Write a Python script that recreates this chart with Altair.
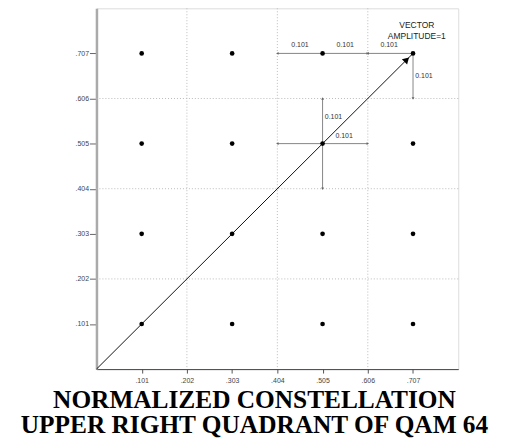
import altair as alt
import pandas as pd

# constellation points (upper right quadrant of QAM 64)
pt_x = [0.101, 0.303, 0.505, 0.707] * 4
pt_y = [0.101] * 4 + [0.303] * 4 + [0.505] * 4 + [0.707] * 4

tick_vals = [0.101, 0.202, 0.303, 0.404, 0.505, 0.606, 0.707]
grid_vals = [0.202, 0.404, 0.606]

# vector from origin to (0.707, 0.707)
vec_x = [0.0, 0.707]
vec_y = [0.0, 0.707]

# dimension segments
dim_x1 = [0.404, 0.505, 0.606, 0.707, 0.505, 0.505, 0.404, 0.505]
dim_x2 = [0.505, 0.606, 0.707, 0.707, 0.505, 0.505, 0.505, 0.606]
dim_y1 = [0.707, 0.707, 0.707, 0.707, 0.505, 0.404, 0.505, 0.505]
dim_y2 = [0.707, 0.707, 0.707, 0.606, 0.606, 0.505, 0.505, 0.505]

# dimension labels
lab_x = [0.4545, 0.5555, 0.6535, 0.712, 0.510, 0.553]
lab_y = [0.725, 0.725, 0.725, 0.657, 0.565, 0.521]
lab_t = ["0.101"] * 6
lab_align = ["center", "center", "center", "left", "left", "center"]

ann_text = ["VECTOR", "AMPLITUDE=1"]
ann_x = [0.7155, 0.7155]
ann_y = [0.7704, 0.7464]

DOM = [0, 0.808]
W, H = 364, 363

xs = alt.Scale(domain=DOM, nice=False, zero=False)
ys = alt.Scale(domain=DOM, nice=False, zero=False)

pts = pd.DataFrame({"x": pt_x, "y": pt_y})
vec = pd.DataFrame({"x": vec_x, "y": vec_y})
dims = pd.DataFrame({"x": dim_x1, "x2": dim_x2, "y": dim_y1, "y2": dim_y2})
grid = pd.DataFrame({"v": grid_vals})
labs = pd.DataFrame({"x": lab_x, "y": lab_y, "t": lab_t, "a": lab_align})
ann = pd.DataFrame({"x": ann_x, "y": ann_y, "t": ann_text})

xaxis = alt.Axis(values=tick_vals, format=".3f", labelExpr="replace(datum.label, '0.', '.')",
                 grid=False, domainColor="#444", domainWidth=1, tickColor="#555", tickSize=4,
                 labelFont="Liberation Sans", labelFontSize=7, labelColor="#444",
                 labelPadding=3, title=None)
yaxis = alt.Axis(values=tick_vals, format=".3f", labelExpr="replace(datum.label, '0.', '.')",
                 grid=False, domainColor="#aaa", domainWidth=2.5, tickColor="#666", tickSize=7,
                 labelFont="Liberation Sans", labelFontSize=7, labelColor="#444",
                 labelPadding=1, title=None)

base_pts = alt.Chart(pts).mark_circle(size=22, color="black", opacity=1).encode(
    x=alt.X("x:Q", scale=xs, axis=xaxis),
    y=alt.Y("y:Q", scale=ys, axis=yaxis),
)

vgrid = alt.Chart(grid).mark_rule(color="#bbb", strokeDash=[1, 2], strokeWidth=1).encode(
    x=alt.X("v:Q", scale=xs))
hgrid = alt.Chart(grid).mark_rule(color="#bbb", strokeDash=[1, 2], strokeWidth=1).encode(
    y=alt.Y("v:Q", scale=ys))

vline = alt.Chart(vec).mark_line(color="#111", strokeWidth=1).encode(
    x=alt.X("x:Q", scale=xs), y=alt.Y("y:Q", scale=ys))

head = alt.Chart(pd.DataFrame({"x": [0.693], "y": [0.693]})).mark_point(
    shape="triangle-up", angle=45, size=55, filled=True, color="black", opacity=1).encode(
    x=alt.X("x:Q", scale=xs), y=alt.Y("y:Q", scale=ys))

dimlines = alt.Chart(dims).mark_rule(color="#777", strokeWidth=0.9).encode(
    x=alt.X("x:Q", scale=xs), x2="x2", y=alt.Y("y:Q", scale=ys), y2="y2")

# arrowheads at both ends of each dimension line
ends = []
for a, b, c, d in zip(dim_x1, dim_x2, dim_y1, dim_y2):
    if c == d:  # horizontal
        ends.append({"x": a, "y": c, "ang": 270})
        ends.append({"x": b, "y": d, "ang": 90})
    else:
        lo, hi = min(c, d), max(c, d)
        ends.append({"x": a, "y": lo, "ang": 180})
        ends.append({"x": a, "y": hi, "ang": 0})
ends_df = pd.DataFrame(ends)
heads = alt.Chart(ends_df).mark_point(shape="triangle-up", size=8, filled=True,
                                      color="#666", opacity=1).encode(
    x=alt.X("x:Q", scale=xs), y=alt.Y("y:Q", scale=ys), angle=alt.Angle("ang:Q", scale=None))

labels_c = alt.Chart(labs[labs.a == "center"]).mark_text(
    font="Liberation Sans", fontSize=7, color="#333", baseline="middle", align="center").encode(
    x=alt.X("x:Q", scale=xs), y=alt.Y("y:Q", scale=ys), text="t:N")
labels_l = alt.Chart(labs[labs.a == "left"]).mark_text(
    font="Liberation Sans", fontSize=7, color="#333", baseline="middle", align="left").encode(
    x=alt.X("x:Q", scale=xs), y=alt.Y("y:Q", scale=ys), text="t:N")

annot = alt.Chart(ann).mark_text(font="Liberation Sans", fontSize=8.5, color="#222",
                                 baseline="middle", align="center").encode(
    x=alt.X("x:Q", scale=xs), y=alt.Y("y:Q", scale=ys), text="t:N")

chart = alt.layer(vgrid, hgrid, dimlines, heads, vline, head, base_pts,
                  labels_c, labels_l, annot).properties(
    width=W, height=H,
    autosize=alt.AutoSizeParams(type="none"),
    padding={"left": 89, "top": -1, "right": 40, "bottom": 68},
    title=alt.TitleParams(
        text=["NORMALIZED CONSTELLATION", "UPPER RIGHT QUADRANT OF QAM 64"],
        orient="bottom", anchor="middle", frame="group", dx=-23,
        font="Liberation Serif", fontSize=25.5, fontWeight="bold", color="black",
        lineHeight=25, offset=5),
).configure_view(stroke="#444", strokeWidth=1).configure(background="white")

chart.save("out.html", embed_options={"renderer": "svg", "actions": False})
